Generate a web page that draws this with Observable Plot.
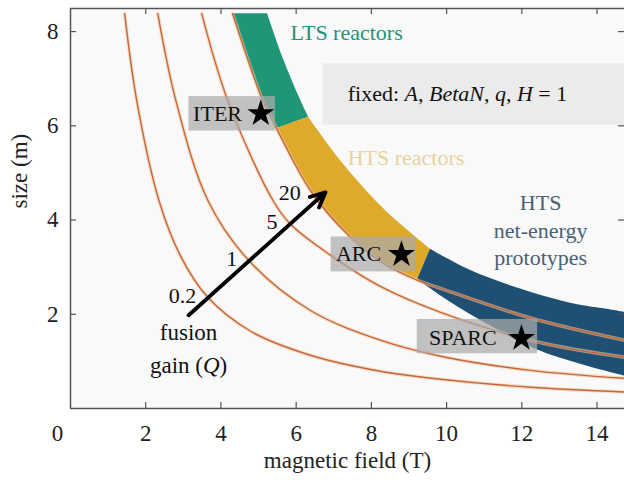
<!DOCTYPE html>
<html><head><meta charset="utf-8">
<script src="https://cdn.jsdelivr.net/npm/d3@7"></script>
<script src="https://cdn.jsdelivr.net/npm/@observablehq/plot@0.6"></script>
<style>body{margin:0;background:#fff}</style>
</head><body><div id="chart"></div>
<script>
// ---- data ----
const xTicks = [2, 4, 6, 8, 10, 12, 14];
const yTicks = [2, 4, 6, 8];
// constant fusion-gain curves: [magnetic field (T), size (m)]
const q02 = [[1.44,8.38],[1.76,6.54],[2.35,4.42],[2.93,3.23],[3.65,2.36],[4.79,1.64],[6.38,1.13],[8.24,0.79],[9.84,0.62],[12.23,0.45],[14.73,0.35]];
const q1  = [[2.32,8.38],[2.80,6.54],[3.65,4.42],[4.74,3.14],[6.38,2.08],[8.24,1.45],[9.84,1.11],[12.23,0.81],[14.73,0.64]];
const q5  = [[3.49,8.38],[4.18,6.54],[5.38,4.42],[5.85,3.91],[6.92,3.25],[8.24,2.59],[9.84,2.04],[12.42,1.41],[14.73,1.09]];
const q20 = [[4.31,8.38],[5.11,6.54],[5.48,5.94],[6.41,4.59],[7.45,3.63],[8.32,3.08],[9.23,2.72],[9.84,2.55],[12.23,1.92],[14.73,1.45]];
// band cross-sections: [inner B, inner R, outer B, outer R]
const bandLTS = [[4.31,8.38,5.24,8.38],[4.74,7.38,5.68,7.38],[5.11,6.54,6.12,6.54],[5.48,5.94,6.33,6.18]];
const bandHTS = [[5.48,5.94,6.33,6.18],[6.41,4.59,7.18,5.26],[7.45,3.63,8.24,4.31],[8.32,3.08,8.91,3.82],[9.23,2.74,9.57,3.38]];
const bandNet = [[9.23,2.74,9.57,3.38],[10.02,2.30,10.64,2.93],[11.17,1.75,12.23,2.47],[12.42,1.24,13.56,2.19],[13.56,0.94,14.14,2.12],[14.73,0.69,14.73,2.04]];
const machines = [{name:"ITER", B:5.06, R:6.26}, {name:"ARC", B:8.80, R:3.27}, {name:"SPARC", B:11.99, R:1.49}];
const machineLabels = [{name:"ITER", B:3.91, R:6.26}, {name:"ARC", B:7.66, R:3.27}, {name:"SPARC", B:10.43, R:1.49}];
const labelBoxes = [[3.15,5.45,5.89,6.62],[6.93,9.20,2.90,3.64],[9.22,12.42,1.16,1.89]];
const noteBox = [[6.71,14.73,6.01,7.32]];
const qLabels = [{t:"0.2", B:2.98, R:2.38},{t:"1", B:4.29, R:3.17},{t:"5", B:5.36, R:3.96},{t:"20", B:5.83, R:4.57}];
const gainArrow = [{B1:3.14, R1:1.98, B2:6.78, R2:4.59}];

const curves = [["0.2", q02], ["1", q1], ["5", q5], ["20", q20]]
  .flatMap(([Q, pts]) => pts.map(([B, R]) => ({Q, B, R})));

const xMax = 14.73, yMax = 8.49;
const serif = "'Liberation Serif', 'Times New Roman', serif";
const ink = "#222";
const axisStroke = "#555";

const band = (data, fill) => Plot.area(data, {x1: d => d[0], y1: d => d[1], x2: d => d[2], y2: d => d[3], fill, curve: "catmull-rom"});

const plot = Plot.plot({
  width: 624, height: 484,
  marginLeft: 70, marginRight: 0, marginTop: 8, marginBottom: 76,
  x: {domain: [0, xMax], label: null},
  y: {domain: [0, yMax], label: null},
  style: {fontFamily: serif, color: ink, background: "#fff", overflow: "visible"},
  marks: [
    Plot.frame({fill: "#f9f9f9", stroke: null}),
    Plot.rect(noteBox, {x1: d => d[0], x2: d => d[1], y1: d => d[2], y2: d => d[3], fill: "#ebebeb"}),
    band(bandLTS, "#1f9677"),
    band(bandHTS, "#dfa92a"),
    band(bandNet, "#1f4f72"),
    Plot.line(curves, {x: "B", y: "R", z: "Q", stroke: "#f1c6a4", strokeWidth: 3.6, strokeOpacity: 0.6, curve: "catmull-rom"}),
    Plot.line(curves, {x: "B", y: "R", z: "Q", stroke: "#c4683a", strokeWidth: 1.4, curve: "catmull-rom"}),
    Plot.rect(labelBoxes, {x1: d => d[0], x2: d => d[1], y1: d => d[2], y2: d => d[3], fill: "#ababab", fillOpacity: 0.72}),
    Plot.text(machineLabels, {x: "B", y: "R", text: "name", fontSize: 22, fill: "#111"}),
    Plot.dot(machines, {x: "B", y: "R", symbol: "star", r: 8.5, fill: "#000", stroke: null}),
    Plot.arrow(gainArrow, {x1: "B1", y1: "R1", x2: "B2", y2: "R2", stroke: "#000", strokeWidth: 3.8, headLength: 6.5, headAngle: 50}),
    Plot.text(qLabels, {x: "B", y: "R", text: "t", fontSize: 22, fill: "#111"}),
    Plot.text(["fusion"], {x: 3.14, y: 1.60, fontSize: 23, fill: "#111"}),
    Plot.text(["gain (Q)"], {x: 3.14, y: 0.92, fontSize: 23, fill: "#111"}),
    Plot.text(["LTS reactors"], {x: 5.85, y: 7.97, textAnchor: "start", fontSize: 22, fill: "#22927a"}),
    Plot.text(["HTS reactors"], {x: 7.37, y: 5.31, textAnchor: "start", fontSize: 22, fill: "#e6d49c"}),
    Plot.text(["HTS\nnet-energy\nprototypes"], {x: 12.50, y: 3.81, fontSize: 22, lineHeight: 1.25, fill: "#4b6075"}),
    Plot.text(["fixed: A, BetaN, q, H = 1"], {x: 7.37, y: 6.67, textAnchor: "start", fontSize: 22, fill: "#111"}),
    // frame lines
    Plot.ruleX([0], {stroke: axisStroke, strokeWidth: 1.5}),
    Plot.ruleY([0, yMax], {stroke: axisStroke, strokeWidth: 1.5}),
    // inward ticks
    Plot.ruleX(xTicks, {x: d => d, insetTop: 394, stroke: axisStroke, strokeWidth: 1.2}),
    Plot.ruleX(xTicks, {x: d => d, insetBottom: 394, stroke: axisStroke, strokeWidth: 1.2}),
    Plot.ruleY(yTicks, {y: d => d, insetRight: 548, stroke: axisStroke, strokeWidth: 1.2}),
    Plot.ruleY(yTicks, {y: d => d, insetLeft: 548, stroke: axisStroke, strokeWidth: 1.2}),
    // tick labels
    Plot.axisX(xTicks, {tickSize: 0, tickPadding: 16, fontSize: 23, label: null}),
    Plot.axisY(yTicks, {tickSize: 0, tickPadding: 12, fontSize: 23, label: null}),
    Plot.text(["0"], {x: 0, y: 0, dx: -13, dy: 25, fontSize: 23}),
    // axis titles
    Plot.text(["magnetic field (T)"], {frameAnchor: "bottom", dy: 59, fontSize: 23}),
    Plot.text(["size (m)"], {frameAnchor: "left", dx: -51, rotate: -90, fontSize: 23})
  ]
});

// italic variables in the annotations
function italicize(full, parts) {
  d3.select(plot).selectAll("text").each(function () {
    if (this.textContent === full) {
      const t = d3.select(this).text(null).style("white-space", "pre");
      parts.forEach(([s, it]) => t.append("tspan").attr("font-style", it ? "italic" : null).text(s));
    }
  });
}
italicize("fixed: A, BetaN, q, H = 1", [["fixed: ",0],["A",1],[", ",0],["BetaN",1],[", ",0],["q",1],[", ",0],["H",1],[" = 1",0]]);
italicize("gain (Q)", [["gain (",0],["Q",1],[")",0]]);

document.getElementById("chart").appendChild(plot);
</script>
</body></html>
